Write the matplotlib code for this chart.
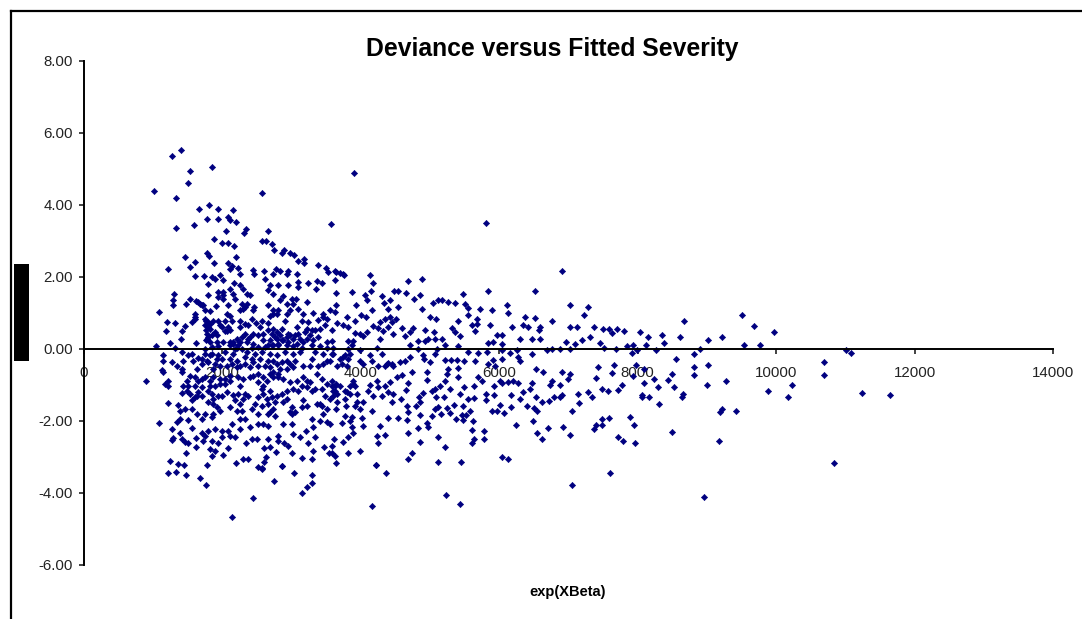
import matplotlib
matplotlib.use('Agg')
import matplotlib.pyplot as plt
from matplotlib.lines import Line2D
from matplotlib.patches import Rectangle

plt.rcParams['font.family'] = ['Liberation Sans', 'DejaVu Sans']

# (fitted severity, deviance), grouped by region
upper_points = [(1012,4.39),(1272,5.37),(1402,5.54),(1532,4.94),(1850,5.06),(1503,4.61),(1330,4.19),(2572,4.33),(3902,4.89),
    (1657,3.89),(1802,4.0),(1936,3.89),(2153,3.86),(1773,3.61),(1936,3.61),(2081,3.67),(2110,3.58),(2197,3.54),(1330,3.37),
    (1590,3.44),(2052,3.28),(2341,3.33),(2312,3.22),(2659,3.28),(3569,3.48),(1879,3.06),(1994,2.94),(2081,2.94),(2168,2.87),
    (2572,3.0),(2630,3.0),(2717,2.91),(2746,2.75),(2890,2.75),(2861,2.67),(2977,2.67),(3035,2.61),(3179,2.5),(3093,2.44),
    (3179,2.39),(3382,2.33),(3497,2.25),(3526,2.14),(3627,2.17),(3700,2.11),(3757,2.06),(1782,2.67),(1811,2.57),(1464,2.56),
    (1609,2.41),(1879,2.39),(1532,2.28),(1214,2.22),(2197,2.56),(2081,2.39),(2139,2.31),(2110,2.22),(2225,2.25),(2447,2.19),
    (2601,2.17),(2775,2.22),(2832,2.17),(2948,2.17),(5809,3.51),(6912,2.18)]

left_above = [(1604,2.02),(1734,2.03),(1845,2.0),(1893,1.95),(1966,2.05),(2004,1.91),(1797,1.8),(2255,2.07),(2457,2.08),(2616,1.95),
    (2727,2.08),(2929,2.07),(3073,2.07),(2173,1.84),(2255,1.77),(2688,1.77),(2809,1.79),(2953,1.79),(3098,1.86),(3242,1.84),
    (3362,1.89),(3444,1.84),(3353,1.68),(3098,1.72),(1301,1.52),(1797,1.51),(1941,1.58),(2014,1.58),(2110,1.68),(2158,1.54),
    (2303,1.68),(2351,1.54),(2399,1.49),(2664,1.63),(2736,1.54),(2881,1.46),(1941,1.44),(2004,1.4),(2182,1.4),(1282,1.35),
    (1291,1.23),(1474,1.24),(1532,1.4),(1619,1.33),(1677,1.26),(1725,1.21),(1908,1.19),(2086,1.23),(2279,1.24),(2327,1.18),
    (2457,1.18),(2664,1.21),(2833,1.35),(2929,1.26),(3001,1.4),(3064,1.4),(3025,1.26),(3218,1.31),(1089,1.04),(1604,0.98),
    (1821,1.05),(2062,0.98),(2110,0.93),(2255,1.07),(2447,1.07),(2736,1.07),(2688,0.93),(2784,0.98),(2977,1.07),(2929,0.98),
    (3098,1.12),(3170,0.98),(3305,1.0),(3459,0.98),(1195,0.75),(1315,0.73),(1556,0.75),(1604,0.84),(1749,0.84),(1797,0.75),
    (1869,0.79),(2038,0.79),(2086,0.61),(1966,0.66),(2255,0.79),(2327,0.7),(2423,0.84),(2486,0.73),(2568,0.78),(2664,0.73),
    (2905,0.78),(3146,0.79),(3242,0.75),(3387,0.81),(3507,0.84),(3459,0.89),(1185,0.51),(1412,0.5),(1460,0.63),(1749,0.66),
    (1821,0.56),(1773,0.42),(2038,0.5),(2110,0.52),(2255,0.61),(2375,0.66),(2447,0.42),(2544,0.61),(2592,0.42),(2736,0.56),
    (2784,0.47),(2857,0.56),(2953,0.42),(3073,0.61),(3194,0.47),(3290,0.52),(3411,0.56),(3483,0.66),(1397,0.27),(1243,0.17),
    (1619,0.16),(1782,0.28),(1821,0.19),(1917,0.19),(2014,0.19),(2206,0.28),(2158,0.14),(2255,0.19),(2399,0.33),(2519,0.38),
    (2351,0.19),(2447,0.14),(2592,0.24),(2688,0.24),(2784,0.28),(2857,0.24),(2929,0.33),(3025,0.28),(3073,0.14),(3218,0.28),
    (3314,0.24),(3387,0.33),(3507,0.19),(3290,0.1),(1041,0.07),(1315,0.03),(1749,0.0),(1845,0.05),(1941,0.07),(2110,0.1),
    (2206,0.03),(2279,0.0),(2423,0.03),(2519,0.05),(2616,0.05),(2712,0.1),(2809,0.1),(2929,0.1),(3025,0.07),(3146,0.03),
    (3411,0.07),(3507,0.03)]

left_near_below = [(1147,-0.18),(1412,-0.09),(1556,-0.13),(1508,-0.18),(1147,-0.32),(1267,-0.37),(1436,-0.32),(1339,-0.46),(1580,-0.32),
    (1652,-0.25),(1749,-0.13),(1845,-0.13),(1941,-0.18),(1701,-0.41),(1797,-0.37),(1893,-0.41),(2038,-0.09),(2158,-0.13),
    (2110,-0.27),(2206,-0.32),(2327,-0.23),(2351,-0.09),(2471,-0.13),(2568,-0.09),(2688,-0.13),(2784,-0.18),(2905,-0.09),
    (3025,-0.13),(3122,-0.09),(3338,-0.09),(3459,-0.13),(2544,-0.27),(2447,-0.37),(2327,-0.41),(2664,-0.32),(2784,-0.41),
    (2929,-0.32),(3049,-0.32),(3290,-0.27),(3507,-0.32),(3387,-0.46),(3025,-0.51),(2206,-0.51),(2062,-0.46),(1869,-0.55),
    (1628,-0.55),(1412,-0.55),(1122,-0.57)]

left_below = [(896,-0.89),(1137,-0.63),(1171,-0.97),(1219,-0.88),(1219,-1.02),(1421,-0.63),(1484,-0.88),(1532,-0.74),(1436,-1.02),
    (1412,-1.23),(1484,-1.16),(1532,-1.25),(1556,-1.43),(1652,-0.88),(1701,-0.83),(1604,-1.02),(1652,-1.2),(1701,-1.3),
    (1604,-1.34),(1821,-1.02),(1845,-1.25),(1797,-1.48),(1869,-1.53),(1869,-0.78),(1966,-0.83),(2038,-0.97),(2110,-0.88),
    (2158,-1.27),(1990,-1.3),(2255,-1.02),(2327,-1.25),(2375,-1.3),(2255,-1.53),(2206,-1.71),(2110,-1.62),(1966,-1.71),
    (1917,-1.62),(1869,-1.81),(2447,-0.74),(2519,-0.92),(2592,-1.02),(2640,-0.88),(2736,-0.78),(2809,-0.69),(2881,-0.83),
    (2977,-0.92),(3073,-0.88),(3170,-0.78),(3266,-0.92),(3362,-0.69),(3435,-0.83),(3507,-0.97),(3098,-1.16),(3218,-1.06),
    (3290,-1.16),(2929,-1.16),(2784,-1.3),(2688,-1.16),(2592,-1.25),(2519,-1.34),(2471,-1.53),(2568,-1.57),(2664,-1.53),
    (2760,-1.48),(2881,-1.48),(3001,-1.62),(3146,-1.62),(3218,-1.57),(3362,-1.53),(3435,-1.57),(3507,-1.67),(2423,-1.67),
    (2519,-1.81),(2688,-1.76),(2760,-1.85),(3001,-1.81),(3049,-1.76),(3290,-1.94),(3411,-1.99),(3507,-2.04),(3459,-1.81),
    (1214,-1.5),(1364,-1.55),(1388,-1.71),(1460,-1.67),(1556,-1.67),(1628,-1.81),(1749,-1.81),(1701,-1.94),(1845,-1.9),
    (1508,-1.97),(1388,-1.94),(1339,-2.04),(1084,-2.06),(2134,-2.08),(2255,-1.94),(2327,-1.94),(2255,-2.22),(2399,-2.18),
    (2519,-2.08),(2592,-2.08),(2664,-2.13),(2871,-2.08),(3011,-2.08),(3025,-2.36),(3122,-2.45),(3208,-2.27),(3305,-2.16),
    (1267,-2.22),(1388,-2.33),(1291,-2.48),(1267,-2.52),(1412,-2.5),(1460,-2.58),(1508,-2.6),(1556,-2.2),(1701,-2.32),
    (1797,-2.27),(1749,-2.41),(1619,-2.48),(1725,-2.55),(1845,-2.55),(1893,-2.22),(1990,-2.27),(2086,-2.27),(2110,-2.41),
    (1990,-2.45),(1941,-2.6),(2182,-2.45),(2341,-2.61),(2423,-2.5),(2496,-2.5),(2654,-2.5),(2809,-2.41),(2809,-2.55),
    (2895,-2.61),(2953,-2.69),(3242,-2.6),(3338,-2.45),(3469,-2.72),(1474,-2.89),(1619,-2.72),(1821,-2.78),(1893,-2.83),
    (1845,-2.97),(2004,-2.95),(2086,-2.75),(2606,-2.76),(2688,-2.72),(2775,-2.87),(3011,-2.89),(3314,-2.83),(3541,-2.89),
    (1243,-3.11),(1364,-3.2),(1445,-3.23),(1782,-3.23),(2197,-3.17),(2293,-3.06),(2375,-3.06),(2630,-2.99),(2606,-3.15),
    (3146,-3.04),(3295,-3.06),(2519,-3.29),(2568,-3.32),(2866,-3.25),(1219,-3.45),(1330,-3.43),(1474,-3.51),(1676,-3.57),
    (1763,-3.79),(2447,-4.15),(2139,-4.67),(2746,-3.67),(3035,-3.45),(3295,-3.5),(3295,-3.73),(3218,-3.84),(3150,-4.01),
    (4162,-4.35),(4364,-3.45),(4220,-3.23),(2861,-3.25),(2567,-3.3)]

# second pass over the dense part of the cloud
cloud_above = [(1763,0.79),(1797,0.61),(1821,0.7),(1763,0.53),(1797,0.33),(1845,0.38),(1763,0.24),(1893,0.47),(1927,0.38),(1990,0.61),
    (2062,0.5),(2158,0.19),(2230,0.1),(2182,0.0),(2110,0.19),(2279,0.33),(2327,0.42),(2375,0.28),(2712,0.42),(2760,0.33),
    (2833,0.38),(2881,0.24),(2809,0.14),(2736,0.1),(2664,0.1),(2977,0.38),(3049,0.38),(3122,0.28),(3170,0.19),(3266,0.38),
    (3338,0.52),(3218,0.56),(3098,0.42),(2953,0.19),(2664,0.52),(2736,0.98),(2809,1.07),(2303,1.12),(2351,1.26),(2014,1.49),
    (1652,1.31),(1701,1.21),(1749,1.07),(1604,0.89),(2134,0.79),(1941,0.79)]

cloud_below = [(1701,-0.27),(1821,-0.18),(1773,-0.32),(1917,-0.27),(1990,-0.27),(1966,-0.46),(2134,-0.41),(2255,-0.46),(2423,-0.27),
    (2399,-0.51),(2519,-0.46),(2616,-0.46),(2736,-0.32),(2857,-0.37),(2977,-0.41),(3170,-0.46),(3266,-0.46),(3459,-0.41),
    (2688,-0.51),(2833,-0.55),(2929,-0.55),(2736,-0.64),(2809,-0.78),(2688,-0.69),(2592,-0.78),(2519,-0.69),(2399,-0.78),
    (2303,-0.83),(2230,-0.78),(2110,-0.74),(2038,-0.83),(1966,-0.97),(1893,-1.02),(1821,-0.88),(1749,-0.78),(1604,-0.78),
    (1508,-1.02),(1701,-1.06),(1628,-1.3),(1797,-1.16),(1869,-1.39),(1941,-1.3),(2062,-1.2),(2230,-1.25),(2303,-1.39),
    (2182,-1.43),(2279,-1.71),(2568,-1.11),(2640,-1.39),(2712,-1.34),(2857,-1.25),(2929,-1.39),(3025,-1.11),(3146,-1.02),
    (3218,-0.88),(3338,-1.11),(3435,-1.11),(3483,-1.3),(3411,-1.53),(2664,-1.81),(2736,-1.67),(2977,-1.76),(3170,-1.43),
    (3642,-0.97),(3579,-1.02),(3627,-1.16),(3603,-1.3),(3555,-1.39),(3892,-0.88),(3916,-1.02),(3772,-1.16),(3844,-1.25),
    (3748,-0.23),(3844,-0.13),(3724,-0.41),(4398,-0.39),(4350,-0.46),(4470,-0.46),(3555,-0.32),(3603,-0.13)]

mid_above = [(3642,2.14),(3748,2.08),(3627,1.93),(4133,2.05),(4181,1.83),(4687,1.88),(4889,1.94),(3642,1.56),(3878,1.58),(4143,1.6),
    (4061,1.49),(4085,1.35),(4302,1.46),(4542,1.61),(4480,1.61),(4653,1.56),(4856,1.51),(4774,1.4),(4340,1.29),(4422,1.35),
    (3931,1.23),(4542,1.17),(4398,1.12),(4167,1.09),(5482,1.54),(5843,1.6),(5048,1.29),(5120,1.37),(5169,1.35),(5265,1.3),
    (5361,1.29),(5506,1.26),(6108,1.21),(6132,1.01),(5554,1.15),(5723,1.12),(5901,1.07),(4880,1.12),(5554,0.95),(5000,0.89),
    (5087,0.82),(5410,0.79),(5675,0.84),(3642,1.21),(3555,1.07),(3627,1.03),(4003,0.95),(4075,0.89),(3796,0.89),(3916,0.79),
    (3651,0.72),(3748,0.66),(3820,0.61),(3589,0.52),(4278,0.75),(4350,0.84),(4422,0.89),(4509,0.84),(4446,0.75),(4181,0.65),
    (4253,0.59),(4326,0.5),(4398,0.61),(4470,0.42),(4591,0.59),(4759,0.59),(4711,0.47),(4639,0.35),(4928,0.52),(5058,0.47),
    (5313,0.59),(5361,0.47),(5434,0.36),(5650,0.49),(5602,0.67),(5675,0.7),(5867,0.67),(6190,0.61),(6349,0.66),(6373,0.89),
    (6421,0.61),(3916,0.45),(3989,0.42),(4085,0.47),(4037,0.35),(3589,0.22),(3820,0.21),(3892,0.21),(4278,0.27),(4832,0.22),
    (4976,0.28),(5072,0.28),(5169,0.28),(4928,0.21),(5963,0.4),(6036,0.4),(5915,0.19),(5843,0.17),(6045,0.13),(6300,0.27),
    (3603,0.03),(3820,0.0),(3868,0.1),(4229,0.03),(4711,0.1),(4832,0.0),(5096,0.0),(5217,0.1),(5410,0.07),(6252,-0.02)]

mid_below = [(3989,-0.04),(5554,-0.09),(5698,-0.11),(5819,-0.07),(6036,-0.04),(6156,-0.11),(3579,-0.13),(3772,-0.18),(3700,-0.27),
    (3820,-0.27),(4133,-0.18),(4302,-0.13),(4157,-0.32),(3989,-0.32),(4037,-0.41),(3796,-0.46),(3651,-0.46),(4711,-0.21),
    (4639,-0.32),(4566,-0.37),(4904,-0.18),(4918,-0.29),(5000,-0.37),(5072,-0.13),(5217,-0.3),(5299,-0.3),(5385,-0.3),
    (5496,-0.32),(5650,-0.32),(5843,-0.41),(5915,-0.3),(6036,-0.27),(6277,-0.21),(6300,-0.34),(4374,-0.41),(4446,-0.41),
    (4253,-0.46),(5410,-0.52),(5265,-0.55),(5939,-0.46),(3579,-0.88),(3627,-1.02),(3594,-1.16),(3651,-1.25),(3700,-1.02),
    (3796,-1.2),(3940,-1.25),(3892,-0.97),(3844,-1.02),(4133,-0.99),(4109,-1.16),(4181,-1.3),(4229,-0.88),(4253,-1.06),
    (4302,-1.3),(4350,-1.02),(4422,-0.92),(4398,-1.2),(4470,-1.25),(4518,-0.78),(4591,-0.71),(4687,-0.94),(4653,-1.14),
    (4735,-0.64),(4952,-0.85),(4952,-0.64),(5072,-1.11),(5144,-1.02),(5024,-1.16),(4904,-1.23),(5217,-0.88),(5241,-0.69),
    (5410,-0.78),(5289,-1.11),(5496,-1.06),(5434,-1.25),(5641,-1.02),(5636,-1.36),(5698,-0.77),(5756,-0.88),(5925,-1.02),
    (6012,-0.88),(6132,-0.92),(6204,-0.88),(6277,-0.94),(6045,-0.95),(6445,-1.11),(6339,-1.2),(6300,-1.39),(6171,-1.28),
    (5925,-1.28),(5809,-1.25),(5809,-1.43),(4846,-1.34),(5087,-1.32),(5207,-1.32),(5554,-1.39),(4451,-1.48),(4581,-1.39),
    (3651,-1.48),(3772,-1.39),(3786,-1.57),(3916,-1.57),(3989,-1.67),(4037,-1.48),(3940,-1.48),(3637,-1.67),(4157,-1.73),
    (4673,-1.57),(4687,-1.76),(4798,-1.57),(4856,-1.48),(4856,-1.83),(5072,-1.67),(5120,-1.6),(5251,-1.65),(5289,-1.78),
    (5352,-1.55),(5472,-1.57),(5578,-1.73),(5457,-1.83),(5520,-1.83),(5376,-1.94),(5482,-1.96),(5617,-1.99),(5901,-1.73),
    (5963,-1.73),(6012,-1.55),(6070,-1.79),(6171,-1.6),(6407,-1.57),(5024,-1.85),(5159,-1.81),(3555,-2.07),(3724,-2.06),
    (3772,-1.85),(3868,-1.9),(3844,-1.99),(4013,-1.93),(4037,-2.13),(3868,-2.18),(3882,-2.32),(4278,-2.13),(4398,-1.93),
    (4542,-1.93),(4663,-1.96),(4952,-2.06),(4976,-2.18),(4832,-2.2),(6243,-2.11),(5612,-2.24),(5780,-2.27),(5780,-2.5),
    (4687,-2.32),(4229,-2.41),(4350,-2.39),(5111,-2.45),(3820,-2.45),(3613,-2.5),(3748,-2.59),(4253,-2.61),(4856,-2.58),
    (5641,-2.5),(5602,-2.61),(5217,-2.73),(3589,-2.69),(3989,-2.83),(3820,-2.89),(3579,-2.89),(3627,-2.97),(4745,-2.89),
    (4687,-3.05),(6041,-3.0),(6127,-3.06),(5120,-3.13),(5448,-3.13),(3642,-3.16),(4220,-3.23),(5438,-4.31),(5236,-4.06)]

right_above = [(7023,1.23),(7283,1.17),(7225,0.95),(6758,0.78),(6512,0.87),(6589,0.61),(6579,0.53),(7023,0.62),(7119,0.61),(7370,0.62),
    (7504,0.56),(7591,0.56),(7634,0.45),(7707,0.56),(7803,0.5),(8034,0.47),(8155,0.34),(8357,0.4),(8386,0.17),(8612,0.34),
    (8670,0.78),(9508,0.95),(9686,0.65),(9971,0.47),(9224,0.32),(9017,0.26),(9542,0.12),(9768,0.12),(8901,0.0),(7312,0.34),
    (7196,0.26),(6965,0.2),(7095,0.14),(7456,0.16),(7514,0.04),(7687,0.0),(7842,0.08),(7928,0.1),(8121,0.12),(7023,0.0),
    (6878,0.0),(6767,0.0),(6589,0.28),(6474,0.28),(6512,1.62)]

right_below = [(8815,-0.14),(7986,-0.04),(7919,-0.11),(8265,-0.04),(6686,-0.04),(6469,-0.14),(7432,-0.5),(7659,-0.44),(7634,-0.66),
    (7976,-0.44),(8097,-0.55),(7938,-0.76),(8555,-0.27),(8815,-0.5),(8815,-0.72),(9017,-0.44),(8241,-0.83),(8097,-0.94),
    (8444,-0.85),(8502,-0.69),(8299,-1.05),(8530,-1.05),(9282,-0.89),(8998,-1.0),(9889,-1.17),(10236,-1.0),(10173,-1.33),
    (8660,-1.25),(8641,-1.34),(8058,-1.28),(8164,-1.33),(8068,-1.34),(8309,-1.53),(7721,-1.14),(7779,-1.0),(7577,-1.17),
    (7490,-1.11),(7398,-0.81),(7288,-1.2),(7345,-1.33),(7143,-1.24),(7153,-1.5),(7047,-1.72),(7023,-0.69),(6912,-0.63),
    (6999,-0.83),(6878,-1.0),(6763,-0.88),(6734,-1.0),(6628,-0.65),(6531,-0.55),(6478,-0.94),(6912,-1.28),(6878,-1.34),
    (6796,-1.34),(6719,-1.45),(6623,-1.48),(6531,-1.34),(6541,-1.73),(6507,-1.64),(9215,-1.67),(9190,-1.76),(9422,-1.72),
    (7890,-1.89),(7485,-1.95),(7586,-1.92),(7952,-2.1),(7398,-2.1),(7490,-2.11),(7370,-2.22),(6926,-2.16),(6710,-2.2),
    (6541,-2.32),(6493,-1.99),(6623,-2.5),(7028,-2.39),(7721,-2.45),(7784,-2.56),(7962,-2.61),(8502,-2.3),(9176,-2.56),
    (7601,-3.45),(7052,-3.78),(8959,-4.12),(10698,-0.37),(10698,-0.72),(11016,-0.02),(11078,-0.11),(11247,-1.21),
    (11642,-1.28),(10842,-3.16)]

regions = [upper_points, left_above, left_near_below, left_below, cloud_above, cloud_below,
           mid_above, mid_below, right_above, right_below]

x_ticks = [0, 2000, 4000, 6000, 8000, 10000, 12000, 14000]
y_ticks = [-6, -4, -2, 0, 2, 4, 6, 8]

W, H = 1082, 619
fig = plt.figure(figsize=(W / 100, H / 100), dpi=100, facecolor='white')
ax = fig.add_axes([84 / W, 1 - 565 / H, (1053 - 84) / W, (565 - 61) / H])

for pts in regions:
    xs = [p[0] for p in pts]
    ys = [p[1] for p in pts]
    ax.plot(xs, ys, linestyle='none', marker='D', markersize=3.2, color='#000080',
            markeredgewidth=0.4, clip_on=False)

ax.set_xlim(0, 14000)
ax.set_ylim(-6, 8)
ax.set_xticks(x_ticks)
ax.set_yticks(y_ticks)
ax.yaxis.set_major_formatter(plt.FuncFormatter(lambda v, _: f'{v:.2f}'))
ax.spines['top'].set_visible(False)
ax.spines['right'].set_visible(False)
ax.spines['bottom'].set_position(('data', 0))
ax.spines['bottom'].set_linewidth(1.4)
ax.spines['left'].set_linewidth(1.4)
ax.tick_params(axis='both', labelsize=10.8, width=1.2, length=3.5, colors='#222222')
ax.tick_params(axis='x', pad=8.5)
ax.tick_params(axis='y', pad=4.5)

def fx(v): return v / W
def fy(v): return 1 - v / H

fig.text(fx(552), fy(49), 'Deviance versus Fitted Severity', ha='center', va='center',
         fontsize=17.8, fontweight='bold')
fig.text(fx(568), fy(592), 'exp(XBeta)', ha='center', va='center', fontsize=10.5, fontweight='bold')
fig.add_artist(Line2D([fx(10.5), fx(10.5)], [0, fy(10.5)], color='black', lw=1.6))
fig.add_artist(Line2D([fx(10.5), 1], [fy(10.5), fy(10.5)], color='black', lw=1.6))
fig.add_artist(Rectangle((fx(14), fy(361)), 15 / W, 97 / H, transform=fig.transFigure,
                         facecolor='black', edgecolor='none'))

fig.savefig('out.png', dpi=100)
